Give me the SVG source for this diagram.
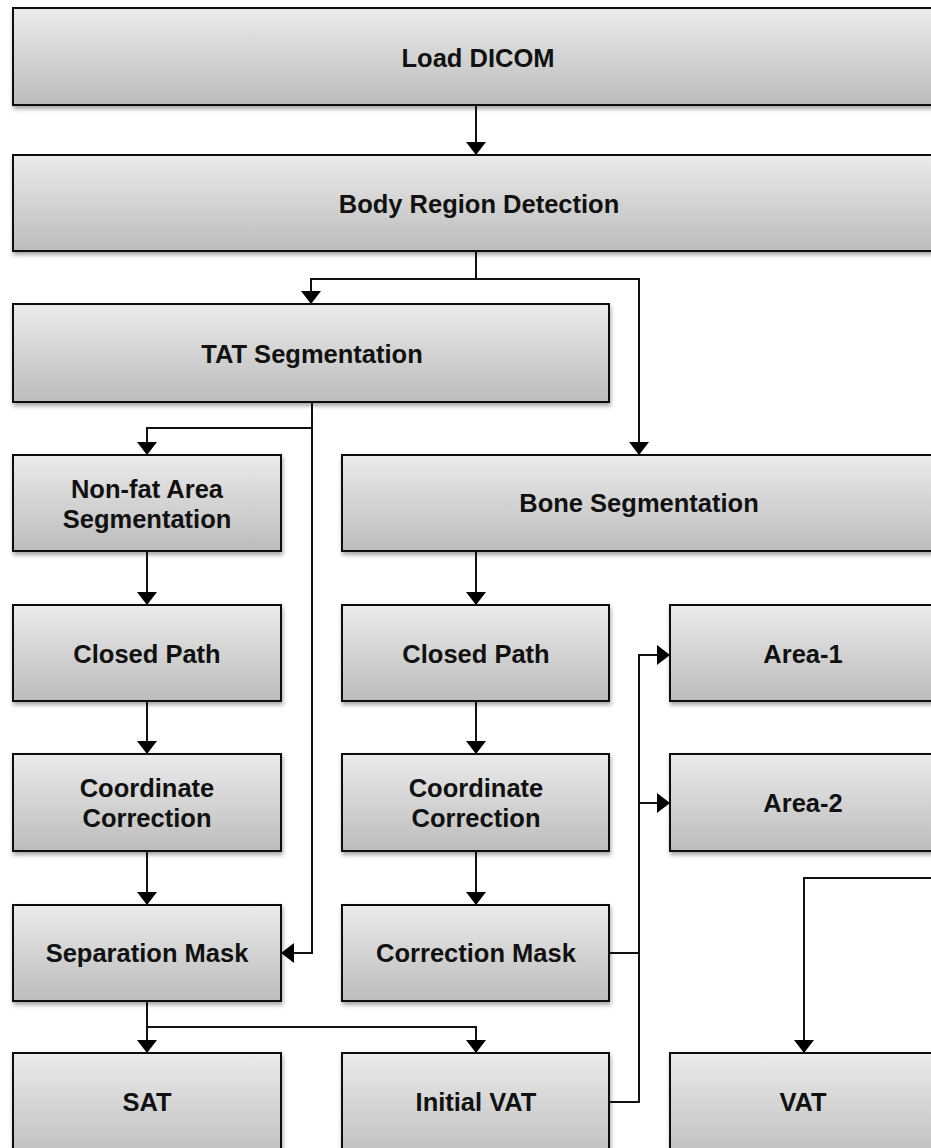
<svg xmlns="http://www.w3.org/2000/svg" width="931" height="1148" viewBox="0 0 931 1148">
  <defs>
    <linearGradient id="boxFill" x1="0" y1="0" x2="0" y2="1">
      <stop offset="0" stop-color="#ebebeb"/>
      <stop offset="1" stop-color="#bcbcbc"/>
    </linearGradient>
    <filter id="shadow" x="-5%" y="-10%" width="110%" height="130%">
      <feDropShadow dx="1" dy="3" stdDeviation="2" flood-color="#000" flood-opacity="0.35"/>
    </filter>
    <marker id="arrow" viewBox="0 0 13 20" refX="13" refY="10" markerWidth="13" markerHeight="20" markerUnits="userSpaceOnUse" orient="auto">
      <path d="M0,0 L13,10 L0,20 Z" fill="#000"/>
    </marker>
  </defs>
  <style>
    .box { fill: url(#boxFill); stroke: #111; stroke-width: 2; filter: url(#shadow); }
    .label { font-family: "Liberation Sans", Arial, sans-serif; font-weight: bold; font-size: 25.5px; fill: #111; text-anchor: middle; }
    .wire { fill: none; stroke: #111; stroke-width: 2; }
  </style>

  <rect width="931" height="1148" fill="#fff"/>

  <g id="nodes">
    <g id="load-dicom">
      <rect class="box" x="13" y="8" width="930" height="97"/>
      <text class="label" x="478" y="67">Load DICOM</text>
    </g>
    <g id="body-region">
      <rect class="box" x="13" y="155" width="930" height="96"/>
      <text class="label" x="479" y="213">Body Region Detection</text>
    </g>
    <g id="tat-seg">
      <rect class="box" x="13" y="304" width="596" height="98"/>
      <text class="label" x="312" y="363">TAT Segmentation</text>
    </g>
    <g id="nonfat-seg">
      <rect class="box" x="13" y="455" width="268" height="96"/>
      <text class="label" x="147" y="498">Non-fat Area</text>
      <text class="label" x="147" y="528">Segmentation</text>
    </g>
    <g id="bone-seg">
      <rect class="box" x="342" y="455" width="596" height="96"/>
      <text class="label" x="639" y="512">Bone Segmentation</text>
    </g>
    <g id="closed-path-left">
      <rect class="box" x="13" y="605" width="268" height="96"/>
      <text class="label" x="147" y="663">Closed Path</text>
    </g>
    <g id="closed-path-right">
      <rect class="box" x="342" y="605" width="267" height="96"/>
      <text class="label" x="476" y="663">Closed Path</text>
    </g>
    <g id="area-1">
      <rect class="box" x="670" y="605" width="268" height="96"/>
      <text class="label" x="803" y="663">Area-1</text>
    </g>
    <g id="coord-corr-left">
      <rect class="box" x="13" y="754" width="268" height="97"/>
      <text class="label" x="147" y="797">Coordinate</text>
      <text class="label" x="147" y="827">Correction</text>
    </g>
    <g id="coord-corr-right">
      <rect class="box" x="342" y="754" width="267" height="97"/>
      <text class="label" x="476" y="797">Coordinate</text>
      <text class="label" x="476" y="827">Correction</text>
    </g>
    <g id="area-2">
      <rect class="box" x="670" y="754" width="268" height="97"/>
      <text class="label" x="803" y="812">Area-2</text>
    </g>
    <g id="separation-mask">
      <rect class="box" x="13" y="905" width="268" height="96"/>
      <text class="label" x="147" y="962">Separation Mask</text>
    </g>
    <g id="correction-mask">
      <rect class="box" x="342" y="905" width="267" height="96"/>
      <text class="label" x="476" y="962">Correction Mask</text>
    </g>
    <g id="sat">
      <rect class="box" x="13" y="1053" width="268" height="110"/>
      <text class="label" x="147" y="1111">SAT</text>
    </g>
    <g id="initial-vat">
      <rect class="box" x="342" y="1053" width="267" height="110"/>
      <text class="label" x="476" y="1111">Initial VAT</text>
    </g>
    <g id="vat">
      <rect class="box" x="670" y="1053" width="268" height="110"/>
      <text class="label" x="803" y="1111">VAT</text>
    </g>
  </g>

  <g id="connectors">
    <!-- Load DICOM to body region -->
    <path class="wire" d="M476,105 V155" marker-end="url(#arrow)"/>
    <!-- Body region splits to TAT and bone -->
    <path class="wire" d="M476,251 V279 H311 V304" marker-end="url(#arrow)"/>
    <path class="wire" d="M476,279 H639 V455" marker-end="url(#arrow)"/>
    <!-- TAT to non-fat and to separation mask -->
    <path class="wire" d="M312,402 V428 H147 V455" marker-end="url(#arrow)"/>
    <path class="wire" d="M312,428 V953 H281" marker-end="url(#arrow)"/>
    <!-- left column -->
    <path class="wire" d="M147,551 V605" marker-end="url(#arrow)"/>
    <path class="wire" d="M147,701 V754" marker-end="url(#arrow)"/>
    <path class="wire" d="M147,851 V905" marker-end="url(#arrow)"/>
    <!-- separation mask to SAT and initial VAT -->
    <path class="wire" d="M147,1001 V1053" marker-end="url(#arrow)"/>
    <path class="wire" d="M147,1027 H476 V1053" marker-end="url(#arrow)"/>
    <!-- right column -->
    <path class="wire" d="M476,551 V605" marker-end="url(#arrow)"/>
    <path class="wire" d="M476,701 V754" marker-end="url(#arrow)"/>
    <path class="wire" d="M476,851 V905" marker-end="url(#arrow)"/>
    <!-- correction mask / initial VAT bus to areas -->
    <path class="wire" d="M609,953 H639"/>
    <path class="wire" d="M609,1102 H639 V655 H670" marker-end="url(#arrow)"/>
    <path class="wire" d="M639,803 H670" marker-end="url(#arrow)"/>
    <!-- into VAT -->
    <path class="wire" d="M940,878 H804 V1053" marker-end="url(#arrow)"/>
  </g>
</svg>
